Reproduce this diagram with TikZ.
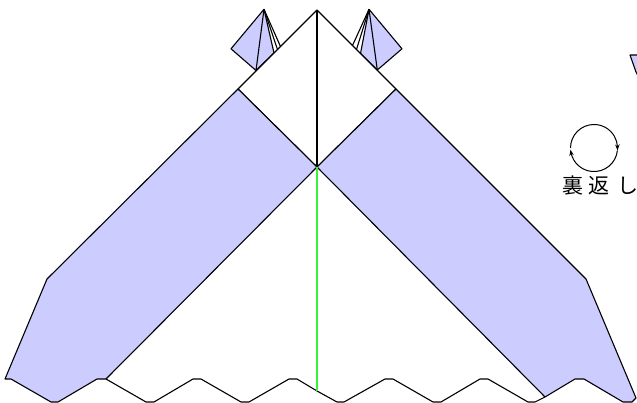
\documentclass[tikz,border=0pt]{standalone}
\usepackage{fontspec}
\newfontfamily\cjk{Noto Sans CJK JP}
\usetikzlibrary{arrows.meta,bending}
\definecolor{paperblue}{RGB}{204,204,255}
\definecolor{creasegreen}{RGB}{60,240,60}
\tikzset{
  fold/.style={draw=black,line width=1.1pt,line join=round},
  bluepart/.style={fold,fill=paperblue},
  whitepart/.style={fold,fill=white},
  turn/.style={draw=black,line width=1pt,-{Stealth[length=6pt,width=4.5pt,bend]}},
  caption/.style={inner sep=0pt,anchor=west,font=\cjk\fontsize{21pt}{21pt}\selectfont}
}
\begin{document}
\begin{tikzpicture}[x=1pt,y=-1pt]
\useasboundingbox (0,0) rectangle (637,403);
\clip (0,0) rectangle (637,403);
% small flaps
\draw[bluepart] (264,9.3) -- (231,48.8) -- (256,70.5) -- (274,53) -- cycle;
\draw[fold] (264,9.3) -- (256,70.5);
\draw[fold] (264,9.3) -- (277.5,49.5);
\draw[fold] (264,9.3) -- (280.5,46.5);
\draw[bluepart] (369,9.3) -- (402,48.8) -- (377.3,70) -- (360.5,53.5) -- cycle;
\draw[fold] (369,9.3) -- (377.3,70);
\draw[fold] (369,9.3) -- (356.5,49.5);
\draw[fold] (369,9.3) -- (352.5,45.5);
% top kite
\draw[whitepart] (317,10) -- (238,89) -- (317,167) -- (396,89) -- cycle;
\draw[fold] (317,10) -- (317,167);
% blue bands
\draw[bluepart] (238,89) -- (47,279) -- (5,379) -- (11,379) -- (51,402) -- (58,402) -- (97,379) -- (106,379) -- (317,167) -- cycle;
\draw[bluepart] (396,89) -- (586,279) -- (636,398) -- (632,402) -- (623,402) -- (584,379) -- (575,379) -- (545,397) -- (317,167) -- cycle;
% lower zigzag
\draw[fold] (106,379) -- (146,402) -- (154,402) -- (193,379) -- (201,379) -- (241,402) -- (249,402) -- (289,379) -- (297,379) -- (317,391) -- (337,402) -- (344,402) -- (385,379) -- (393,379) -- (433,402) -- (441,402) -- (480,379) -- (488,379) -- (528,402) -- (535,402) -- (545,397);
% centre crease
\draw[draw=creasegreen,line width=1.2pt] (317,167.5) -- (317,391);
% next step fragment
\draw[bluepart] (640,55) -- (630,55) -- (636,72) -- (640,80);
% turn-over symbol
\draw[turn] (570.5,148) arc[start angle=180,end angle=366,radius=23.5];
\draw[turn] (617.4,150.5) arc[start angle=6,end angle=176,radius=23.5];
\node[caption] (turnlabel) at (562,186) {裏\hspace{5pt}返\hspace{8pt}し};
\end{tikzpicture}
\end{document}
